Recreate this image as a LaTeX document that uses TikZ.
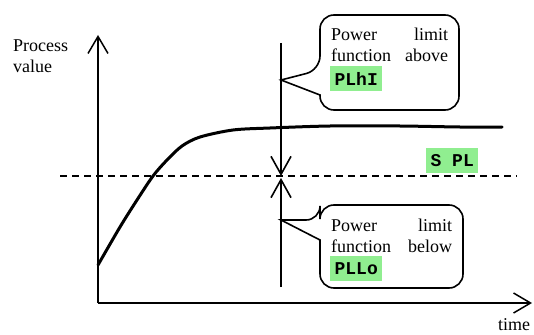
\documentclass[tikz,border=0pt]{standalone}
\usepackage{fontspec}
\setmainfont{Liberation Serif}
\setmonofont{Liberation Mono}
\usetikzlibrary{arrows.meta}
\definecolor{hl}{RGB}{144,238,144}
\tikzset{
  axisline/.style={line width=1.3pt, -{Straight Barb[length=17pt,width=20pt,line width=1.5pt]}},
  vline/.style={line width=1.8pt, -{Straight Barb[length=18pt,width=20pt,line width=1.6pt]}},
  balloon/.style={line width=1.6pt},
  txt/.style={inner sep=0pt, anchor=base west, font=\fontsize{18}{21}\selectfont},
  code/.style={fill=hl, inner sep=0pt, anchor=north west, minimum width=52pt, minimum height=25pt, font=\fontsize{18}{21}\selectfont\ttfamily\bfseries},
}
\begin{document}
\begin{tikzpicture}[x=1pt,y=-1pt]
\useasboundingbox (0,0) rectangle (534,334);
% axes
\coordinate (O) at (98,303);
\coordinate (Ytop) at (98,35);
\coordinate (Xend) at (532,303);
\draw[axisline] (O) -- (Ytop);
\draw[axisline] (O) -- (Xend);
% set point dashed line
\coordinate (dL) at (60,176);
\coordinate (dR) at (517,176);
\draw[line width=1.3pt, dash pattern=on 7pt off 5pt] (dL) -- (dR);
% process curve
\draw[line width=3pt, line cap=round, line join=round] plot[smooth, tension=0.5] coordinates {(98,265) (120,227) (137,200) (153,176) (167,160) (182,146) (200,137) (233,130) (270,128) (330,126) (400,126) (460,127) (502,127)};
% vertical limit line with arrows
\coordinate (vTop) at (281,43);
\coordinate (vMidA) at (281,176);
\coordinate (vMidB) at (281,178);
\coordinate (vBot) at (281,287);
\draw[vline] (vTop) -- (vMidA);
\draw[vline] (vBot) -- (vMidB);
% upper balloon
\coordinate (tipA) at (281,80);
\draw[balloon] (tipA) -- (320,95) -- (320,96) [rounded corners=14pt] -- (320,110) -- (459,110) -- (459,15) -- (320,15) -- (320,70) [sharp corners] -- cycle;
% lower balloon
\coordinate (tipB) at (281,220);
\draw[balloon] (tipB) -- (320,240) -- (320,241) [rounded corners=14pt] -- (320,288) -- (463,288) -- (463,205) -- (320,205) -- (320,220) [sharp corners] -- cycle;
% texts
\node[txt] (pv1) at (13,52) {Process};
\node[txt] (pv2) at (13,73) {value};
\node[txt] (time) at (498,330) {time};
\node[txt] (a1) at (331,41) {\makebox[117pt][s]{Power limit}};
\node[txt] (a2) at (331,62) {\makebox[117pt][s]{function above}};
\node[code] (plhi) at (330,66) {PLhI};
\node[txt] (b1) at (331,231) {\makebox[121pt][s]{Power limit}};
\node[txt] (b2) at (331,252) {\makebox[121pt][s]{function below}};
\node[code] (pllo) at (330,256) {PLLo};
\node[code] (spl) at (426,148) {S PL};
\end{tikzpicture}
\end{document}
